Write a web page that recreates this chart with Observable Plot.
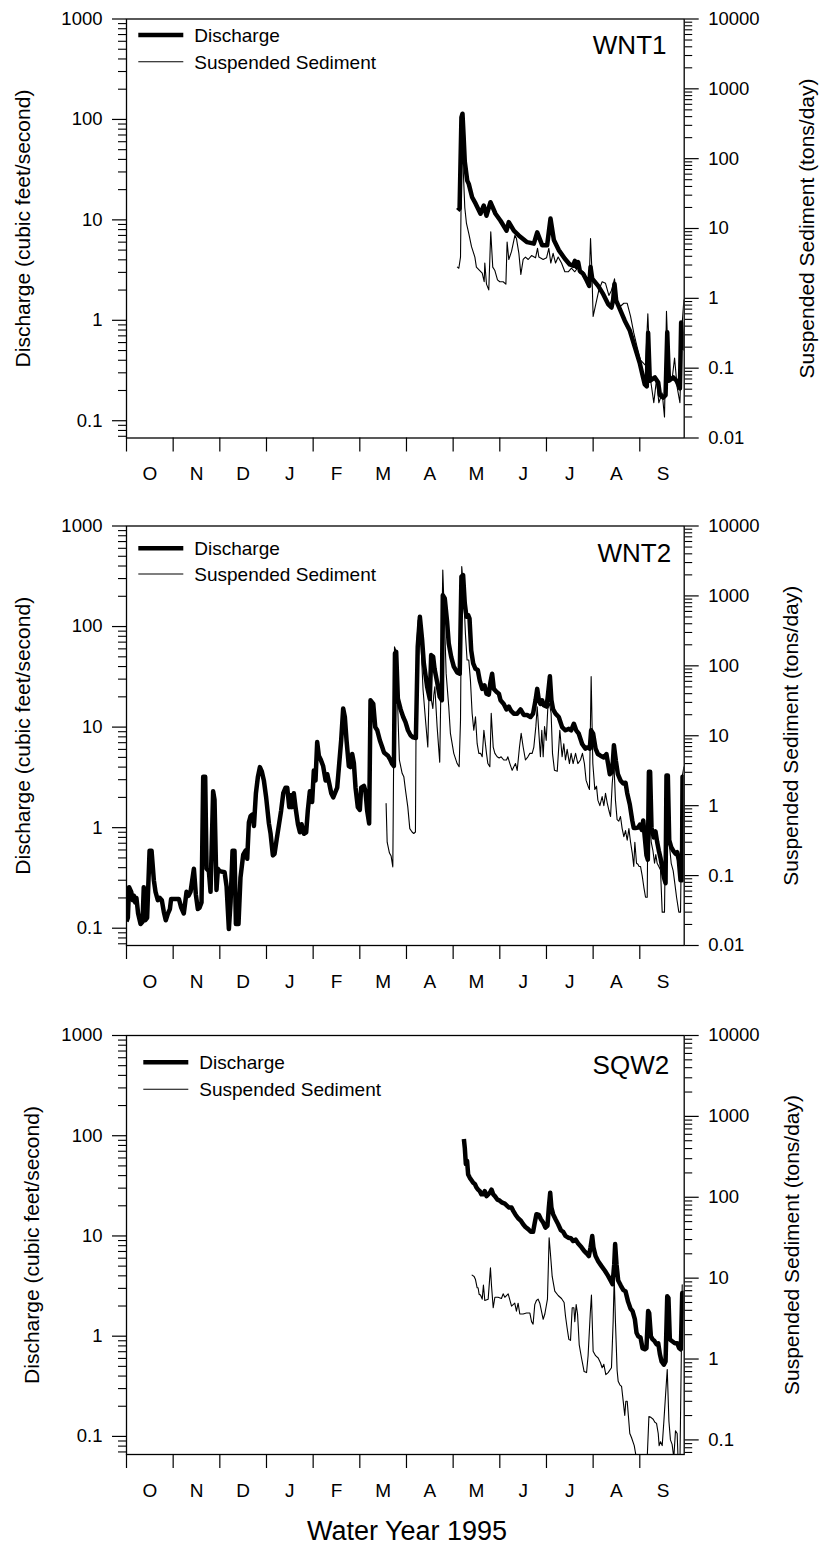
<!DOCTYPE html>
<html><head><meta charset="utf-8">
<script src="https://cdn.jsdelivr.net/npm/d3@7"></script>
<script src="https://cdn.jsdelivr.net/npm/@observablehq/plot@0.6"></script>
<style>
body{margin:0;background:#fff;}
#page{position:relative;width:822px;height:1545px;font-family:"Liberation Sans",Arial,Helvetica,sans-serif;background:#fff;}
.panel{position:absolute;left:0;width:822px;}
.panel svg{display:block;}
</style></head><body><div id="page"></div>
<script>
// ---------- data (day of water year 1995, Oct 1 = day 0) ----------
const months = ["O","N","D","J","F","M","A","M","J","J","A","S"];

const wnt1DischargeDays = [216.8,218.0,219.2,219.9,220.6,221.4,223.0,224.0,226.2,228.5,231.7,233.8,235.6,238.2,241.5,244.8,248.7,250.2,253.5,256.7,262.2,266.6,268.8,272.0,275.3,277.5,279.7,282.9,286.9,290.1,292.3,293.4,294.5,295.6,296.7,298.9,301.1,302.8,303.7,304.8,308.7,312.0,315.2,317.4,318.5,319.4,320.5,322.9,326.1,329.4,332.7,336.0,338.1,339.2,340.5,341.4,342.5,345.8,348.0,349.1,351.2,352.8,353.9,355.0,357.8,360.0,362.2,363.0,364.1];
const wnt1Discharge = [12.4,13,105,114,70,38,24.6,22.8,16.8,14.5,11.5,13.9,11.0,15,11.5,9.8,7.8,9.5,7.8,7.0,6.0,5.8,7.5,5.6,5.6,10.3,6.3,5.0,4.1,3.6,3.5,3.9,3.4,3.8,3.1,2.9,2.5,2.2,3.4,2.6,2.2,1.82,1.45,1.34,1.6,2.3,1.57,1.29,0.99,0.79,0.54,0.37,0.27,0.23,0.22,0.75,0.25,0.27,0.24,0.18,0.17,0.18,0.76,0.25,0.27,0.25,0.21,0.95,0.5];
const wnt1SedimentDays = [216.6,217.5,218.6,219.5,220.5,221.4,222.5,224.0,225.8,228.0,229.0,231.2,232.8,234.1,234.5,235.6,237.1,238.4,239.7,241.1,242.8,244.3,246.5,248.3,249.1,250.2,252.0,254.2,255.2,256.8,258.1,259.6,261.1,262.9,265.1,267.7,269.0,269.9,272.7,274.9,276.4,277.7,279.2,280.8,282.5,284.7,286.9,289.1,291.2,293.4,295.6,296.7,298.9,301.1,302.8,303.7,304.5,305.4,309.1,311.3,313.5,315.7,317.4,319.4,321.1,323.3,325.5,327.7,329.9,332.0,334.2,336.4,339.7,341.2,342.9,345.1,346.9,348.4,350.6,352.1,353.4,355.0,357.1,358.7,360.4,362.2,363.7,364.8];
const wnt1Sediment = [2.8,2.7,3.9,250,60,20,11.8,8.5,5.5,3.9,2.8,2.5,2.3,1.73,3.2,1.6,1.32,9.0,2.8,2.5,1.84,1.73,1.73,1.6,6.4,3.6,4.7,8.0,7.2,4.4,2.2,3.6,3.9,3.6,4.1,3.8,5.2,3.9,3.6,3.8,5.2,3.2,4.4,3.2,3.9,3.2,2.4,2.4,2.7,2.4,2.8,2.3,2.4,1.93,1.73,7.2,2.8,0.55,1.3,1.73,1.64,1.1,1.3,1.9,0.85,0.77,0.85,0.85,0.55,0.32,0.2,0.13,0.11,0.6,0.07,0.032,0.07,0.032,0.044,0.02,0.65,0.07,0.07,0.14,0.053,0.032,0.44,0.95];

const wnt2DischargeDays = [0.0,0.9,1.7,3.1,4.1,4.8,5.7,6.5,7.6,9.2,10.5,11.3,12.2,13.5,15.1,16.4,17.9,19.0,20.5,21.8,23.1,24.4,25.7,27.1,28.4,29.2,32.1,34.3,35.8,37.5,39.3,40.6,41.9,44.1,45.4,46.7,47.8,49.1,50.2,51.5,52.4,53.9,55.0,56.7,57.6,58.9,59.8,60.9,64.2,65.5,67.0,68.1,69.4,70.7,71.6,73.3,74.6,76.4,77.9,79.0,80.1,81.2,82.3,83.4,84.7,86.0,87.3,88.6,89.9,91.4,93.2,94.3,95.8,96.9,98.2,99.7,101.2,102.6,104.1,105.2,106.5,107.4,108.4,109.5,110.6,112.2,113.5,114.6,116.1,117.6,118.7,120.0,121.5,122.6,123.7,124.8,125.9,127.0,128.7,130.3,131.4,132.7,134.0,135.3,137.9,140.5,141.8,142.9,144.0,145.5,146.6,147.7,148.8,149.9,151.4,152.7,153.6,155.4,156.4,157.5,158.8,159.7,161.5,162.8,164.1,165.8,167.4,168.5,171.1,172.4,173.9,175.0,175.7,176.5,177.6,179.4,181.1,182.6,184.2,185.9,187.6,189.4,190.6,192.0,193.5,194.6,196.8,198.5,199.4,200.7,201.6,203.3,205.0,206.4,207.0,208.3,209.8,210.9,212.5,214.2,216.4,218.1,219.2,220.3,221.4,222.5,223.6,224.5,225.6,226.9,228.4,229.9,231.2,232.8,234.3,235.6,237.1,238.2,239.3,240.4,242.1,243.7,244.8,246.9,248.7,250.2,251.7,253.5,255.7,257.9,260.0,262.2,264.4,266.1,267.7,268.8,269.9,270.9,272.0,273.1,274.9,275.7,277.1,278.1,279.2,280.8,282.9,285.1,287.3,289.5,291.0,292.8,294.3,296.0,298.2,300.4,301.9,303.2,304.1,305.4,307.0,308.5,310.2,312.4,314.1,315.2,316.3,317.9,319.0,320.3,321.6,323.3,325.1,326.6,327.7,329.4,331.0,332.0,333.1,334.7,336.0,337.3,338.2,339.2,340.3,341.2,341.9,342.7,343.6,345.1,346.2,347.3,348.4,349.5,350.6,351.7,352.8,353.4,354.3,355.2,356.5,357.8,359.3,360.4,361.5,362.6,363.5,363.9,364.8];
const wnt2Discharge = [0.117,0.127,0.256,0.23,0.19,0.21,0.18,0.2,0.14,0.11,0.116,0.256,0.12,0.127,0.59,0.59,0.3,0.23,0.19,0.2,0.19,0.146,0.12,0.14,0.155,0.195,0.195,0.195,0.16,0.14,0.23,0.21,0.23,0.39,0.215,0.155,0.16,0.18,3.2,3.2,0.39,0.37,0.23,2.3,1.9,0.24,0.39,0.37,0.36,0.26,0.098,0.18,0.59,0.59,0.11,0.11,0.32,0.54,0.59,0.49,1.13,1.3,1.35,1.04,2.2,3.2,4.0,3.6,2.95,2.0,1.1,0.87,0.53,0.55,0.75,1.05,1.48,2.2,2.5,2.5,1.6,2.1,1.6,2.2,1.6,1.08,0.9,1.08,0.87,0.9,1.5,2.3,1.8,3.7,2.95,7.1,5.2,4.8,4.1,2.95,3.4,2.75,2.2,2.0,2.5,7.4,15.3,12.6,7.4,4.1,4.0,5.4,4.4,2.5,1.6,1.5,2.5,2.6,2.3,1.48,1.1,18.5,17,10.0,9.3,7.4,6.3,5.6,5.2,4.8,4.3,4.1,54,56,19.2,15,12.6,11.2,9.3,8.3,7.9,7.8,63,125,73,43,25,19,52,50,38,28,20,18.5,205,190,113,68,50,40,35,34,313,325,170,125,130,120,58,43,38,37,29,24,26,21.5,21,28,34,24,22.5,21.5,18.5,17,15,16,14.5,13.6,13.6,15,13.2,13.2,12.6,13.6,18.5,24,18.5,17,18.5,16.5,16,20,32,18.5,15,13.6,12.6,10,9.3,9.6,9.3,10.8,9.3,8.6,6.8,6.1,6.3,6.1,9.3,8.6,6.1,5.4,5.2,5.0,5.4,4.3,3.4,3.6,6.6,4.6,3.4,2.95,2.75,2.8,2.2,1.7,1.18,0.99,0.99,1.0,1.07,0.95,1.18,0.8,0.53,0.48,3.6,3.6,1.0,0.8,0.92,0.72,0.59,0.5,0.4,0.32,0.28,3.3,3.3,0.75,0.64,0.59,0.55,0.57,0.47,0.3,0.3,3.2,2.8];
const wnt2SedimentDays = [169.9,170.6,172.1,173.2,174.3,175.4,176.2,177.1,178.6,180.4,181.5,182.6,184.1,185.4,186.9,188.0,189.1,189.8,190.9,192.0,193.0,194.1,195.7,197.2,198.5,199.6,200.5,201.1,201.8,203.3,205.0,207.0,207.9,209.2,210.9,212.0,214.2,216.4,217.7,218.6,219.4,220.5,221.8,222.9,224.0,225.1,226.2,227.3,228.4,229.5,230.6,231.7,232.8,233.9,235.6,236.5,237.8,238.7,240.0,241.1,242.6,243.9,245.2,246.9,248.7,249.6,250.9,252.4,253.5,254.6,255.7,257.2,258.3,259.6,261.1,262.7,264.0,265.5,266.6,267.9,268.8,269.9,270.9,271.8,272.7,273.6,274.7,275.7,276.8,277.9,278.8,280.1,281.9,283.6,285.1,286.2,287.3,288.4,289.9,291.0,292.3,293.9,295.4,297.1,298.4,299.7,300.8,302.1,303.0,304.1,305.2,306.5,307.6,308.5,309.8,311.3,312.4,313.5,314.6,315.7,316.8,317.9,319.0,320.0,321.1,322.2,323.3,324.4,325.5,326.6,327.7,328.8,329.9,331.0,332.0,332.7,333.8,334.7,335.5,336.4,337.5,338.6,339.7,340.8,341.4,342.5,343.4,344.5,345.6,346.4,347.3,348.4,349.5,350.6,352.1,353.2,354.1,355.0,356.5,357.8,358.9,360.0,361.5,362.6,363.7,364.8];
const wnt2Sediment = [1.07,0.3,0.21,0.19,0.133,187,168,50,4.5,2.9,2.6,1.66,0.96,0.47,0.42,0.40,0.42,168,450,470,150,45,16.7,6.9,121,32,24.5,38,50,13.4,4.2,2340,630,78,26,10.8,5.6,4.0,3.6,16.7,2620,1350,290,121,121,62,21,12,18.6,7.7,5.6,5.6,5.0,12,5.6,4.0,3.6,21,6.9,5.6,5.0,4.8,5.0,4.5,4.5,5.0,4.0,3.2,3.6,4.0,3.2,6.9,10.8,6.9,4.5,5.0,5.6,5.6,6.9,13.5,26,10.8,5.0,12,5.0,13.5,8.6,24,29,21,5.6,3.2,3.1,12,5.0,7.7,4.5,6.4,4.0,5.6,4.0,5.6,4.0,4.5,5.6,4.0,2.3,1.9,1.7,70,4.0,1.7,1.9,1.2,1.0,1.35,1.0,1.5,1.1,0.86,0.7,2.07,4.0,1.2,0.63,0.6,0.7,0.47,0.36,0.44,0.32,0.47,0.3,0.21,0.135,0.3,0.15,0.145,0.135,0.135,0.1,0.068,0.049,0.049,1.9,0.63,0.3,0.23,0.15,0.2,0.15,0.135,0.12,0.030,0.030,2.6,2.6,0.32,0.15,0.117,0.076,0.049,0.030,0.030,2.6,3.6];

const sqw2DischargeDays = [220.8,221.4,222.1,222.9,223.6,224.7,225.8,226.9,228.0,229.0,230.1,231.2,232.3,233.4,234.5,235.6,236.7,237.8,238.9,240.0,241.1,242.8,244.3,245.9,247.6,249.1,250.4,252.0,253.1,254.6,256.3,258.1,259.6,261.1,262.9,264.6,266.1,267.2,268.3,269.9,271.2,272.7,274.2,275.5,276.4,277.3,278.1,279.2,280.8,282.5,284.3,285.8,287.3,289.1,290.8,292.3,293.9,295.6,297.8,299.5,301.1,302.6,303.7,304.8,305.6,307.0,308.7,310.9,313.1,315.2,316.8,318.1,319.2,319.8,320.7,321.8,323.5,325.1,326.6,328.3,329.9,331.2,332.7,333.8,334.9,336.4,337.7,339.2,340.3,341.4,342.1,343.2,344.3,345.4,346.9,348.0,349.1,350.2,351.7,352.8,353.9,354.7,355.6,356.7,358.9,360.4,361.7,362.8,363.7,364.8];
const sqw2Discharge = [92.6,76,52,56,41,38,36,34,33,30.5,29,28,26,26,28,25,26,27,29,26,25,23,22.5,21.5,21,20,19.2,19.2,17.8,16.3,15,14.2,13.1,12.3,11.7,11,11,13.6,16.5,16.2,14.7,13.6,12.1,12.6,19.2,27,19.2,16.5,14.7,13.1,11.4,11,10,9.6,9.5,8.9,9.2,8.4,7.7,7.1,6.7,6.3,7.7,10,7.7,6.3,5.6,5.0,4.5,4.0,3.6,3.3,5.2,8.3,5.2,3.6,3.2,2.9,2.8,2.2,1.88,1.78,1.48,1.08,1.0,0.97,0.76,0.74,0.76,1.78,1.7,1.0,0.93,0.9,0.83,0.85,0.66,0.56,0.52,0.56,2.5,2.4,0.93,0.9,0.85,0.85,0.76,0.74,2.7,2.7];
const sqw2SedimentDays = [226.2,227.5,228.4,229.5,230.1,230.8,231.7,232.8,233.6,234.5,236.7,238.2,238.9,240.0,241.1,243.2,245.4,246.5,247.6,249.8,252.0,254.1,255.2,256.3,257.4,259.6,261.8,264.0,265.1,266.1,267.2,268.3,269.4,270.5,272.7,273.8,275.5,276.6,277.5,278.6,280.3,282.5,284.7,286.4,287.3,288.4,289.5,290.6,291.7,292.8,293.4,294.3,295.2,296.3,297.8,299.5,301.1,302.1,303.5,304.3,305.4,307.0,308.7,310.2,311.3,312.4,313.7,315.2,317.4,318.5,319.2,320.0,321.1,321.8,322.9,324.0,325.1,326.1,326.8,327.7,329.4,330.5,332.3,333.3,334.9,337.1,339.2,340.8,341.9,343.2,344.7,345.8,346.9,348.0,348.6,349.5,350.6,351.7,352.8,353.9,355.0,356.0,357.1,358.2,359.3,360.4,361.1,362.2,363.7];
const sqw2Sediment = [10.9,10.5,9.6,7.6,7.6,6.3,6.2,5.5,8.2,5.3,5.5,13.4,8,4.3,5.8,5.8,5.6,6.4,5.8,6.4,4.5,4.9,3.9,4.9,3.6,3.6,3.7,3.7,2.9,2.7,4.7,5.3,5.5,4.9,3.1,3.6,5.5,31.6,19.6,10.5,6.9,6.1,5.6,5.0,3.4,2.4,1.75,1.7,4.3,4.3,2.9,4.7,3.6,1.5,1.03,0.7,0.68,1.1,3.6,6.2,1.25,1.1,1.03,0.9,0.78,0.86,0.64,0.68,0.78,2.9,10.1,2.9,0.72,0.53,0.48,0.46,0.3,0.2,0.3,0.3,0.12,0.107,0.085,0.066,0.045,0.035,0.04,0.06,0.195,0.19,0.18,0.165,0.16,0.12,0.085,0.095,0.085,0.17,0.36,0.74,0.17,0.1,0.088,0.06,0.13,0.12,0.05,0.05,8.3];

// ---------- layout ----------
const FONT = '"Liberation Sans", Arial, Helvetica, sans-serif';
const panels = [
  {name:"WNT1", top:0,    height:500, mt:18.5, mb:62.5, yMin:0.0673, sedMin:0.01,
   dd:wnt1DischargeDays, dv:wnt1Discharge, sd:wnt1SedimentDays, sv:wnt1Sediment,
   leftDx:-103, rightDx:123.3, nameDx:-17.7, nameDy:34.8, legX:138.3, legY1:35, legY2:61.7},
  {name:"WNT2", top:500,  height:510, mt:25.5, mb:65,   yMin:0.0673, sedMin:0.01,
   dd:wnt2DischargeDays, dv:wnt2Discharge, sd:wnt2SedimentDays, sv:wnt2Sediment,
   leftDx:-103, rightDx:107.3, nameDx:-13, nameDy:35.5, legX:138.3, legY1:48.3, legY2:74},
  {name:"SQW2", top:1010, height:500, mt:25,   mb:56,   yMin:0.066,  sedMin:0.066,
   dd:sqw2DischargeDays, dv:sqw2Discharge, sd:sqw2SedimentDays, sv:sqw2Sediment,
   leftDx:-94.3, rightDx:108.3, nameDx:-15, nameDy:38.3, legX:143.3, legY1:52.3, legY2:79.3}
];

const monthStep = 30.54;
const monthTicks = d3.range(12).map(i => i * monthStep);
const monthCenters = d3.range(12).map(i => (i + 0.5) * monthStep);

function minorTicks(lo, hi) {
  const out = [];
  for (let e = Math.floor(Math.log10(lo)); e < Math.ceil(Math.log10(hi)); e++) {
    for (let k = 2; k <= 9; k++) {
      const v = k * Math.pow(10, e);
      if (v >= lo * 0.999 && v <= hi) out.push(v);
    }
  }
  return out;
}
function decades(lo, hi) {
  const out = [];
  for (let e = Math.ceil(Math.log10(lo) - 1e-9); e <= Math.floor(Math.log10(hi) + 1e-9); e++) out.push(Math.pow(10, e));
  return out;
}
function fmtPow(v) {
  const e = Math.round(Math.log10(v));
  return e < 0 ? Math.pow(10, e).toFixed(-e) : String(Math.round(Math.pow(10, e)));
}

const page = document.getElementById("page");

for (const p of panels) {
  const L0 = Math.log10(p.yMin), L1 = 3, S0 = Math.log10(p.sedMin), S1 = 4;
  const sedToY = s => Math.pow(10, L0 + (Math.log10(s) - S0) * (L1 - L0) / (S1 - S0));

  const disc = p.dd.map((d, i) => ({day: d, value: p.dv[i]}));
  const sed = p.sd.map((d, i) => ({day: d, value: sedToY(p.sv[i])}));

  const leftMajor = decades(p.yMin, 1000);
  const leftMinor = minorTicks(p.yMin, 1000);
  const rightLabels = decades(p.sedMin, 10000).map(v => ({y: sedToY(v), label: fmtPow(v)}));
  const rightMajor = rightLabels.map(d => d.y);
  const rightMinor = minorTicks(p.sedMin, 10000).map(sedToY);

  const chart = Plot.plot({
    width: 822,
    height: p.height,
    marginLeft: 126,
    marginRight: 138.3,
    marginTop: p.mt,
    marginBottom: p.mb,
    x: {domain: [0, 365], axis: null},
    y: {type: "log", domain: [p.yMin, 1000], axis: null, label: null},
    style: {fontFamily: FONT, fontSize: "18.5px", color: "#000", background: "#fff", overflow: "visible"},
    marks: [
      Plot.line(sed, {x: "day", y: "value", stroke: "#000", strokeWidth: 1.1, clip: true}),
      Plot.line(disc, {x: "day", y: "value", stroke: "#000", strokeWidth: 4.5, strokeLinejoin: "round", strokeLinecap: "butt", clip: true}),
      Plot.frame({stroke: "#000", strokeWidth: 1.3}),
      Plot.axisY({ticks: leftMajor, anchor: "left", tickSize: 14, tickPadding: 10, tickFormat: fmtPow, fontSize: 18.5, label: null, strokeWidth: 1.2}),
      Plot.axisY({ticks: leftMinor, anchor: "left", tickSize: 8, tickFormat: () => "", label: null, strokeWidth: 1.1}),
      Plot.axisY({ticks: rightMajor, anchor: "right", tickSize: 14, tickFormat: () => "", label: null, strokeWidth: 1.2}),
      Plot.axisY({ticks: rightMinor, anchor: "right", tickSize: 7.5, tickFormat: () => "", label: null, strokeWidth: 1.1}),
      Plot.text(rightLabels, {frameAnchor: "right", y: "y", text: "label", dx: 24, textAnchor: "start",
                 lineAnchor: "middle", fontSize: 18.5}),
      Plot.axisX({ticks: monthTicks, anchor: "bottom", tickSize: 14, tickFormat: () => "", label: null, strokeWidth: 1.2}),
      Plot.axisX({ticks: monthCenters, anchor: "bottom", tickSize: 0, tickPadding: 28.5, fontSize: 19,
                  tickFormat: d => months[Math.round(d / monthStep - 0.5)], label: null}),
      Plot.text([p.name], {frameAnchor: "top-right", text: d => d, dx: p.nameDx, dy: p.nameDy,
                 textAnchor: "end", lineAnchor: "bottom", fontSize: 26}),
      Plot.text(["Discharge (cubic feet/second)"], {frameAnchor: "left", text: d => d, rotate: -90,
                 dx: p.leftDx, textAnchor: "middle", lineAnchor: "middle", fontSize: 21}),
      Plot.text(["Suspended Sediment (tons/day)"], {frameAnchor: "right", text: d => d, rotate: -90,
                 dx: p.rightDx, textAnchor: "middle", lineAnchor: "middle", fontSize: 21})
    ]
  });

  const wrap = document.createElement("div");
  wrap.className = "panel";
  wrap.style.top = p.top + "px";
  wrap.style.height = p.height + "px";
  wrap.appendChild(chart);

  // legend
  const lx = p.legX, tx = p.legX + 56;
  const leg = `<svg width="822" height="120" style="position:absolute;left:0;top:0;overflow:visible" font-family='${FONT}' font-size="19">
    <line x1="${lx}" x2="${lx + 45}" y1="${p.legY1}" y2="${p.legY1}" stroke="#000" stroke-width="4.5"/>
    <text x="${tx}" y="${p.legY1 + 6.8}" fill="#000">Discharge</text>
    <line x1="${lx}" x2="${lx + 45}" y1="${p.legY2}" y2="${p.legY2}" stroke="#000" stroke-width="1.1"/>
    <text x="${tx}" y="${p.legY2 + 6.8}" fill="#000">Suspended Sediment</text>
  </svg>`;
  wrap.insertAdjacentHTML("beforeend", leg);
  page.appendChild(wrap);
}

// x-axis title below the bottom panel
page.insertAdjacentHTML("beforeend",
  `<svg width="822" height="1545" style="position:absolute;left:0;top:0;pointer-events:none">
     <text x="407" y="1540" text-anchor="middle" font-family='${FONT}' font-size="27" fill="#000">Water Year 1995</text>
   </svg>`);
</script></body></html>
